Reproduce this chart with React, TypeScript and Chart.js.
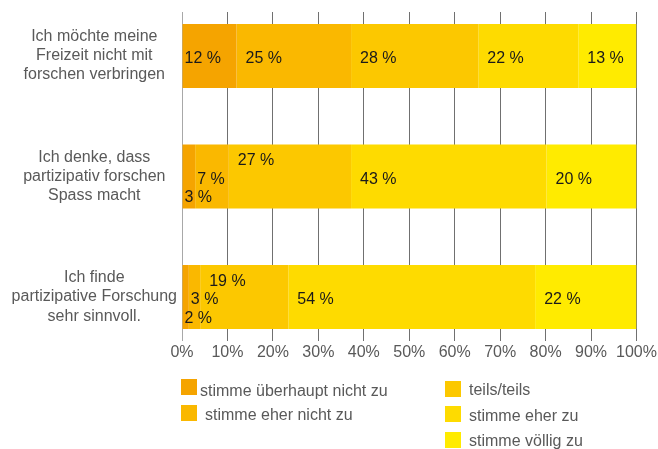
import React, { useEffect, useRef } from "react";
import { Chart, registerables } from "chart.js";

Chart.register(...registerables);

const categories: string[][] = [
  ["Ich möchte meine", "Freizeit nicht mit", "forschen verbringen"],
  ["Ich denke, dass", "partizipativ forschen", "Spass macht"],
  ["Ich finde", "partizipative Forschung", "sehr sinnvoll."],
];

const seriesLabels = [
  "stimme überhaupt nicht zu",
  "stimme eher nicht zu",
  "teils/teils",
  "stimme eher zu",
  "stimme völlig zu",
];

const stronglyDisagree = [12.0, 2.9, 1.5];
const disagree = [25.2, 7.4, 2.5];
const neutral = [28.0, 26.9, 19.4];
const agree = [22.0, 43.0, 54.3];
const stronglyAgree = [12.8, 19.8, 22.3];

const seriesValues = [stronglyDisagree, disagree, neutral, agree, stronglyAgree];

const xTickValues = [0, 10, 20, 30, 40, 50, 60, 70, 80, 90, 100];

const colors = ["#F5A400", "#FAB800", "#FCC800", "#FEDB00", "#FFEB00"];

const FONT = '"Liberation Sans", Arial, sans-serif';
const GRAY_TEXT = "#595959";

const legendLayout = [
  { x: 181, y: 379, textX: 200, baseline: 396 },
  { x: 181, y: 405, textX: 205, baseline: 420 },
  { x: 445, y: 381, textX: 469, baseline: 395 },
  { x: 445, y: 406, textX: 469, baseline: 421 },
  { x: 445, y: 432, textX: 469, baseline: 446 },
];

const barLabelPlugin = {
  id: "barLabels",
  afterDatasetsDraw(chart: any) {
    const ctx = chart.ctx;
    ctx.save();
    ctx.font = `16px ${FONT}`;
    ctx.fillStyle = "#1a1a1a";
    ctx.textAlign = "left";
    ctx.textBaseline = "middle";
    const n = seriesValues.length;
    categories.forEach((_, i) => {
      const clusters: number[][] = [];
      for (let j = 0; j < n; j++) {
        const prev = j > 0 ? seriesValues[j - 1][i] : 100;
        if (j === 0 || prev >= 10) clusters.push([j]);
        else clusters[clusters.length - 1].push(j);
      }
      clusters.forEach((cl) =>
        cl.forEach((j, k) => {
          const el = chart.getDatasetMeta(j).data[i];
          const v = seriesValues[j][i];
          const start = Math.min(el.base, el.x);
          const pad = j === 0 || v < 10 ? 2 : 9;
          const dy = ((cl.length - 1) / 2 - k) * 18.5;
          ctx.fillText(Math.round(v) + " %", start + pad, el.y + 3 + dy);
        })
      );
    });
    ctx.restore();
  },
};

const legendPlugin = {
  id: "customLegend",
  afterDraw(chart: any) {
    const ctx = chart.ctx;
    ctx.save();
    ctx.font = `16px ${FONT}`;
    ctx.textAlign = "left";
    ctx.textBaseline = "alphabetic";
    chart.data.datasets.forEach((ds: any, j: number) => {
      const pos = legendLayout[j];
      ctx.fillStyle = ds.backgroundColor;
      ctx.fillRect(pos.x, pos.y, 16, 16);
      ctx.fillStyle = GRAY_TEXT;
      ctx.fillText(ds.label, pos.textX, pos.baseline);
    });
    ctx.restore();
  },
};

export default function App() {
  const canvasRef = useRef<HTMLCanvasElement | null>(null);

  useEffect(() => {
    document.body.style.margin = "0";
    document.body.style.overflow = "hidden";
    const canvas = canvasRef.current;
    if (!canvas) return;
    const chart = new Chart(canvas, {
      type: "bar",
      data: {
        datasets: seriesValues.map((vals, j) => ({
          label: seriesLabels[j],
          data: vals.map((v, i) => ({ x: v, y: i })),
          backgroundColor: colors[j],
          borderWidth: 0,
          barThickness: 64,
          inflateAmount: 0,
        })),
      },
      options: {
        indexAxis: "y",
        animation: false,
        responsive: false,
        devicePixelRatio: 1,
        layout: { padding: { top: 12, right: 21.5, left: 0, bottom: 0 } },
        plugins: {
          legend: { display: false },
          tooltip: { enabled: false },
        },
        scales: {
          x: {
            type: "linear",
            stacked: true,
            bounds: "data",
            offset: false,
            min: 0,
            max: 100,
            afterBuildTicks: (scale: any) => {
              scale.ticks = xTickValues.map((v) => ({ value: v }));
            },
            afterFit: (scale: any) => {
              scale.height = 108;
              scale.paddingLeft = 0;
              scale.paddingRight = 0;
            },
            ticks: {
              callback: (v: any) => v + "%",
              color: GRAY_TEXT,
              font: { family: FONT, size: 16 },
              padding: 2,
              maxRotation: 0,
              autoSkip: false,
            },
            grid: {
              display: true,
              offset: false,
              drawTicks: false,
              color: (c: any) => (c.tick && c.tick.value === 0 ? "#a8a8a8" : "#707070"),
              lineWidth: 1,
            },
            border: { display: false },
          },
          y: {
            type: "linear",
            stacked: true,
            reverse: true,
            bounds: "data",
            offset: false,
            min: -0.364,
            max: 2.365,
            afterBuildTicks: (scale: any) => {
              scale.ticks = categories.map((_, i) => ({ value: i }));
            },
            afterFit: (scale: any) => {
              scale.width = 182;
              scale.paddingTop = 0;
              scale.paddingBottom = 0;
            },
            ticks: {
              callback: (v: any) => categories[v] ?? "",
              color: GRAY_TEXT,
              font: { family: FONT, size: 16, lineHeight: 1.2 },
              crossAlign: "center",
              padding: 5,
              autoSkip: false,
            },
            grid: { display: false, offset: false, drawTicks: false },
            border: { display: false },
          },
        },
      } as any,
      plugins: [barLabelPlugin, legendPlugin],
    });
    return () => chart.destroy();
  }, []);

  return (
    <div style={{ width: 658, height: 449 }}>
      <canvas ref={canvasRef} width={658} height={449} style={{ display: "block" }} />
    </div>
  );
}
